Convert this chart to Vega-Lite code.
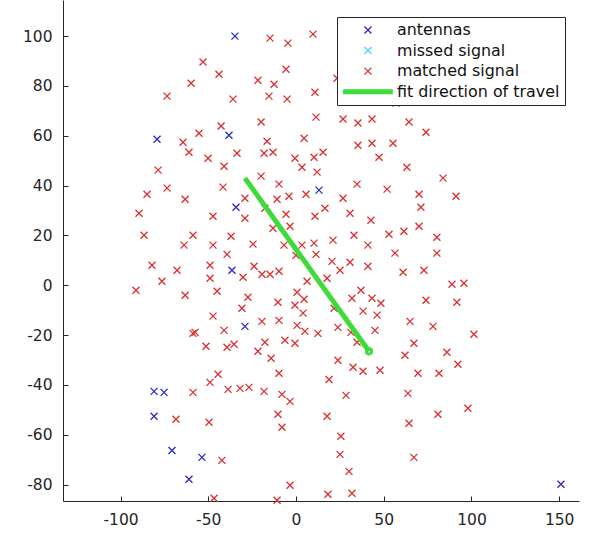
{
  "$schema": "https://vega.github.io/schema/vega-lite/v6.json",
  "width": 516,
  "height": 501,
  "autosize": {"type": "none"},
  "padding": {"left": 63, "top": 0, "right": 11, "bottom": 34},
  "background": "white",
  "datasets": {
    "matched": [
      {"x": -59.8, "y": 81.1}, {"x": -73.5, "y": 75.9}, {"x": -64.4, "y": 57.4}, {"x": -61.0, "y": 53.4},
      {"x": -78.6, "y": 46.2}, {"x": -14.8, "y": 99.2}, {"x": -4.6, "y": 97.2}, {"x": 9.7, "y": 100.8},
      {"x": -53.0, "y": 89.6}, {"x": -43.9, "y": 84.7}, {"x": -5.7, "y": 86.7}, {"x": -21.7, "y": 82.3},
      {"x": -12.5, "y": 80.7}, {"x": -35.9, "y": 74.7}, {"x": -15.4, "y": 75.9}, {"x": -5.1, "y": 74.7},
      {"x": 10.8, "y": 77.5}, {"x": 11.4, "y": 67.5}, {"x": -19.9, "y": 65.5}, {"x": -42.7, "y": 63.9},
      {"x": -55.3, "y": 61.0}, {"x": 4.6, "y": 59.0}, {"x": -16.5, "y": 57.8}, {"x": -18.2, "y": 53.0},
      {"x": -13.1, "y": 53.4}, {"x": -33.6, "y": 53.0}, {"x": -50.1, "y": 51.0}, {"x": -0.6, "y": 51.0},
      {"x": 10.3, "y": 51.4}, {"x": -41.0, "y": 47.8}, {"x": 3.4, "y": 47.4}, {"x": 15.4, "y": 53.4},
      {"x": 23.4, "y": 83.1}, {"x": 57.0, "y": 73.1}, {"x": 26.8, "y": 66.7}, {"x": 35.3, "y": 65.1},
      {"x": 43.3, "y": 66.7}, {"x": 64.4, "y": 65.5}, {"x": 74.1, "y": 61.4}, {"x": 35.3, "y": 56.2},
      {"x": 43.3, "y": 57.0}, {"x": 55.3, "y": 57.0}, {"x": 47.3, "y": 51.4}, {"x": 63.2, "y": 47.4},
      {"x": -73.5, "y": 39.0}, {"x": -84.9, "y": 36.5}, {"x": -63.2, "y": 34.5}, {"x": -89.5, "y": 28.9},
      {"x": -86.6, "y": 20.1}, {"x": -58.7, "y": 20.1}, {"x": -63.8, "y": 16.1}, {"x": -82.1, "y": 8.0},
      {"x": -67.8, "y": 6.0}, {"x": -76.4, "y": 1.6}, {"x": -91.2, "y": -2.0}, {"x": -63.2, "y": -4.0},
      {"x": -58.7, "y": -19.3}, {"x": 12.0, "y": 45.4}, {"x": -19.9, "y": 43.8}, {"x": -41.6, "y": 39.4},
      {"x": -9.7, "y": 40.6}, {"x": -29.1, "y": 34.9}, {"x": -10.8, "y": 34.5}, {"x": -4.0, "y": 35.7},
      {"x": 5.7, "y": 36.5}, {"x": -47.3, "y": 27.7}, {"x": -29.1, "y": 26.9}, {"x": -5.7, "y": 28.5},
      {"x": 10.8, "y": 27.7}, {"x": -17.7, "y": 30.9}, {"x": -3.4, "y": 23.7}, {"x": -13.1, "y": 22.9},
      {"x": -37.0, "y": 19.7}, {"x": -47.3, "y": 16.1}, {"x": -24.5, "y": 16.5}, {"x": -6.8, "y": 16.1},
      {"x": 3.4, "y": 16.1}, {"x": 10.3, "y": 16.9}, {"x": -39.3, "y": 12.4}, {"x": 0.0, "y": 12.0},
      {"x": 11.4, "y": 12.4}, {"x": -49.0, "y": 8.0}, {"x": -23.9, "y": 7.6}, {"x": -49.0, "y": 2.8},
      {"x": -30.2, "y": 3.2}, {"x": -19.4, "y": 4.4}, {"x": -14.8, "y": 4.4}, {"x": -9.7, "y": 5.6},
      {"x": 6.3, "y": 1.6}, {"x": -45.0, "y": -2.4}, {"x": 0.6, "y": -2.8}, {"x": -27.4, "y": -4.8},
      {"x": 4.6, "y": -5.6}, {"x": -10.3, "y": -6.8}, {"x": -0.6, "y": -8.0}, {"x": -30.8, "y": -9.2},
      {"x": 4.0, "y": -11.2}, {"x": -47.3, "y": -12.4}, {"x": -19.4, "y": -14.5}, {"x": -9.7, "y": -14.1},
      {"x": 0.6, "y": -16.1}, {"x": -57.5, "y": -18.9}, {"x": -41.0, "y": -18.1}, {"x": 5.1, "y": -18.5},
      {"x": 12.5, "y": -19.3}, {"x": 83.8, "y": 43.0}, {"x": 34.8, "y": 40.6}, {"x": 51.9, "y": 38.6},
      {"x": 70.1, "y": 36.5}, {"x": 26.8, "y": 34.9}, {"x": 16.5, "y": 30.9}, {"x": 71.2, "y": 31.3},
      {"x": 30.8, "y": 28.9}, {"x": 42.7, "y": 26.1}, {"x": 70.1, "y": 23.7}, {"x": 53.0, "y": 20.5},
      {"x": 61.5, "y": 21.7}, {"x": 33.0, "y": 20.1}, {"x": 21.1, "y": 18.1}, {"x": 80.3, "y": 19.3},
      {"x": 41.0, "y": 16.1}, {"x": 56.4, "y": 12.9}, {"x": 80.3, "y": 12.9}, {"x": 20.5, "y": 9.6},
      {"x": 30.8, "y": 9.2}, {"x": 41.0, "y": 7.6}, {"x": 25.1, "y": 6.0}, {"x": 61.0, "y": 5.2},
      {"x": 72.9, "y": 6.0}, {"x": 17.7, "y": 2.8}, {"x": 88.9, "y": 0.4}, {"x": 37.0, "y": -2.0},
      {"x": 31.9, "y": -5.2}, {"x": 43.3, "y": -5.2}, {"x": 48.4, "y": -7.2}, {"x": 74.1, "y": -6.0},
      {"x": 21.7, "y": -9.2}, {"x": 38.2, "y": -10.4}, {"x": 46.2, "y": -12.0}, {"x": 65.0, "y": -14.5},
      {"x": 78.1, "y": -16.5}, {"x": 23.9, "y": -16.9}, {"x": 45.0, "y": -18.1}, {"x": 31.3, "y": -18.9},
      {"x": 91.2, "y": 35.7}, {"x": 95.7, "y": 0.8}, {"x": 91.7, "y": -6.8}, {"x": 101.4, "y": -19.7},
      {"x": -58.7, "y": -43.0}, {"x": -68.4, "y": -53.8}, {"x": -51.3, "y": -24.5}, {"x": -39.3, "y": -24.9},
      {"x": -35.3, "y": -23.7}, {"x": -17.7, "y": -22.9}, {"x": -21.7, "y": -26.5}, {"x": -6.3, "y": -22.1},
      {"x": -0.6, "y": -23.3}, {"x": -14.2, "y": -29.3}, {"x": -9.7, "y": -35.3}, {"x": -49.0, "y": -39.0},
      {"x": -44.4, "y": -35.7}, {"x": -38.7, "y": -41.8}, {"x": -31.9, "y": -41.4}, {"x": -26.8, "y": -41.0},
      {"x": -18.2, "y": -42.6}, {"x": -8.0, "y": -43.8}, {"x": -3.4, "y": -46.6}, {"x": -10.3, "y": -51.8},
      {"x": -8.0, "y": -57.0}, {"x": -49.6, "y": -55.0}, {"x": -42.2, "y": -70.3}, {"x": -3.4, "y": -80.3},
      {"x": -46.7, "y": -85.5}, {"x": -10.8, "y": -86.3}, {"x": 34.8, "y": -22.9}, {"x": 67.2, "y": -23.3},
      {"x": 62.1, "y": -28.1}, {"x": 86.0, "y": -26.9}, {"x": 23.9, "y": -30.1}, {"x": 32.5, "y": -32.9},
      {"x": 38.2, "y": -34.5}, {"x": 47.9, "y": -34.1}, {"x": 69.5, "y": -35.3}, {"x": 81.5, "y": -35.3},
      {"x": 18.8, "y": -37.8}, {"x": 28.5, "y": -44.2}, {"x": 63.8, "y": -43.4}, {"x": 17.7, "y": -52.6},
      {"x": 80.9, "y": -51.8}, {"x": 64.4, "y": -55.4}, {"x": 25.6, "y": -60.6}, {"x": 25.1, "y": -67.9},
      {"x": 67.2, "y": -69.1}, {"x": 30.2, "y": -74.7}, {"x": 18.2, "y": -83.9}, {"x": 31.9, "y": -83.5},
      {"x": 92.3, "y": -31.7}, {"x": 98.0, "y": -49.4}
    ],
    "antennas": [
      {"x": -34.8, "y": 100.0}, {"x": -79.2, "y": 58.6}, {"x": -38.2, "y": 60.2}, {"x": 13.1, "y": 38.2},
      {"x": -34.2, "y": 31.3}, {"x": -36.5, "y": 6.0}, {"x": -29.1, "y": -16.5}, {"x": -80.9, "y": -42.6},
      {"x": -75.2, "y": -43.0}, {"x": -80.9, "y": -52.6}, {"x": -70.7, "y": -66.3}, {"x": -61.0, "y": -77.9},
      {"x": -53.6, "y": -69.1}, {"x": 151.0, "y": -79.9}
    ],
    "fit": [
      {"x": -29.1, "y": 43.0}, {"x": 41.6, "y": -26.5}
    ],
    "fitEnd": [
      {"x": 41.6, "y": -26.5}
    ]
  },
  "encoding": {
    "x": {
      "field": "x", "type": "quantitative",
      "scale": {"domain": [-132.8, 161.3], "nice": false, "zero": false},
      "axis": {"values": [-100, -50, 0, 50, 100, 150], "labelPadding": 16, "labelExpr": "toString(datum.value)"}
    },
    "y": {
      "field": "y", "type": "quantitative",
      "scale": {"domain": [-86.6, 114.5], "nice": false, "zero": false},
      "axis": {"values": [-80, -60, -40, -20, 0, 20, 40, 60, 80, 100], "labelPadding": 16, "labelExpr": "toString(datum.value)"}
    }
  },
  "layer": [
    {
      "data": {"name": "matched"},
      "mark": {"type": "point", "filled": false, "size": 49, "opacity": 1},
      "encoding": {
        "color": {
          "datum": "matched signal", "type": "nominal",
          "scale": {
            "domain": ["antennas", "missed signal", "matched signal", "fit direction of travel"],
            "range": ["#2b2bc8", "#3fdde6", "#d9302f", "#3ddc3a"]
          },
          "legend": {
            "title": null, "orient": "none", "legendX": 274, "legendY": 17,
            "padding": 5, "strokeColor": "#262626", "fillColor": "white",
            "symbolSize": 49, "symbolStrokeWidth": 1.3, "symbolOffset": 18,
            "labelOffset": 21, "rowPadding": 3.6, "labelLimit": 400,
            "labelFont": "DejaVu Sans", "labelFontSize": 15.9, "labelColor": "#111111"
          }
        },
        "shape": {
          "datum": "matched signal", "type": "nominal",
          "scale": {
            "domain": ["antennas", "missed signal", "matched signal", "fit direction of travel"],
            "range": [
              "M-1,-1L1,1M-1,1L1,-1",
              "M-1,-1L1,1M-1,1L1,-1",
              "M-1,-1L1,1M-1,1L1,-1",
              "M-7.1,-0.5H7.1M-7.1,-0.25H7.1M-7.1,0H7.1M-7.1,0.25H7.1M-7.1,0.5H7.1"
            ]
          },
          "legend": {
            "title": null, "orient": "none", "legendX": 274, "legendY": 17,
            "padding": 5, "strokeColor": "#262626", "fillColor": "white",
            "symbolSize": 49, "symbolStrokeWidth": 1.3, "symbolOffset": 18,
            "labelOffset": 21, "rowPadding": 3.6, "labelLimit": 400,
            "labelFont": "DejaVu Sans", "labelFontSize": 15.9, "labelColor": "#111111"
          }
        }
      }
    },
    {
      "data": {"name": "antennas"},
      "mark": {"type": "point", "filled": false, "size": 49, "opacity": 1},
      "encoding": {
        "color": {"datum": "antennas", "type": "nominal"},
        "shape": {"datum": "antennas", "type": "nominal"}
      }
    },
    {
      "data": {"name": "fit"},
      "mark": {"type": "line", "color": "#3ddc3a", "strokeWidth": 5},
      "encoding": {}
    },
    {
      "data": {"name": "fitEnd"},
      "mark": {"type": "point", "shape": "circle", "filled": false, "color": "#3ddc3a", "strokeWidth": 3, "size": 30, "opacity": 1},
      "encoding": {}
    }
  ],
  "config": {
    "view": {"stroke": null},
    "point": {"strokeWidth": 1.3},
    "axis": {
      "title": null, "grid": false,
      "domainColor": "#262626", "tickColor": "#262626", "labelColor": "#262626",
      "labelFont": "DejaVu Sans", "labelFontSize": 15.5,
      "tickSize": -5, "domainWidth": 1, "tickWidth": 1
    }
  }
}
